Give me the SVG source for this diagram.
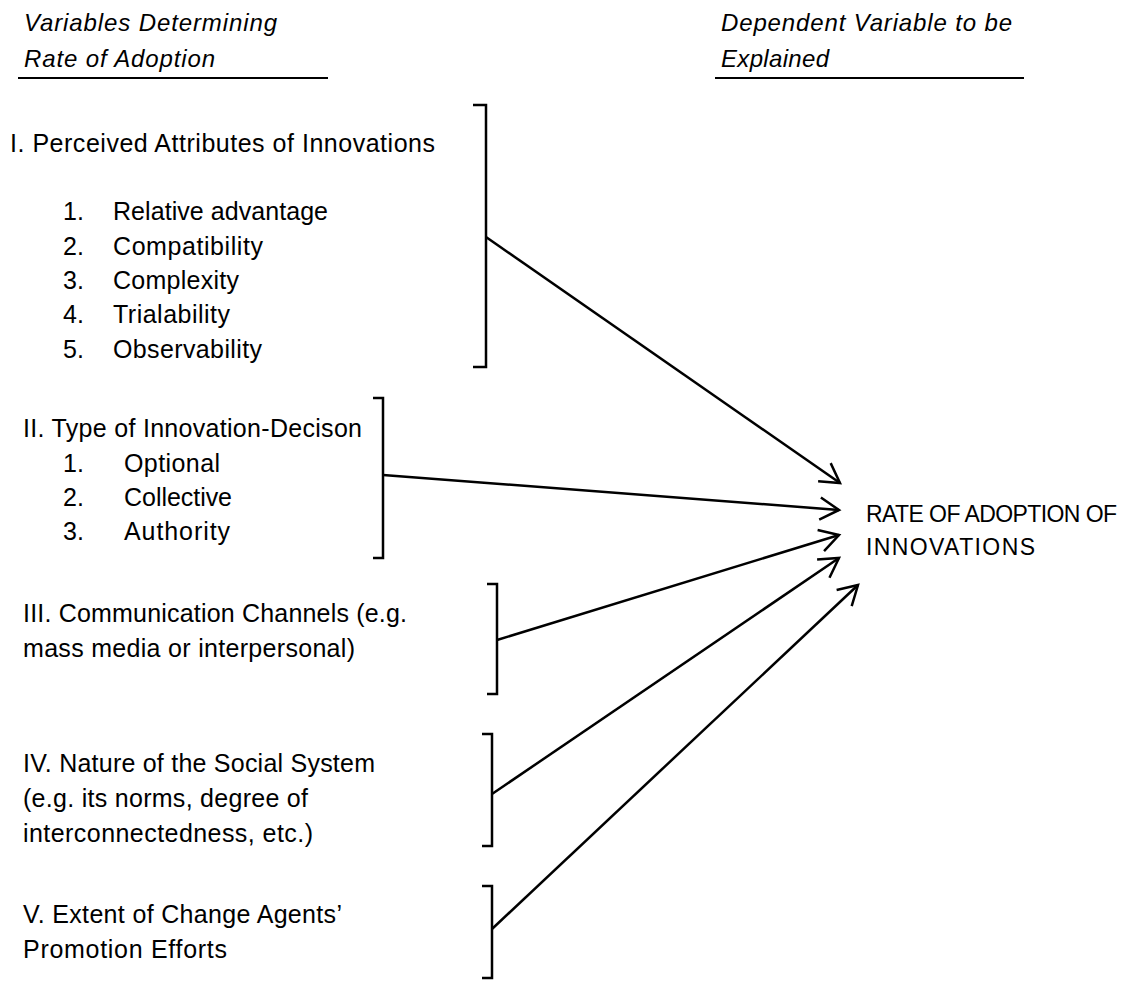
<svg xmlns="http://www.w3.org/2000/svg" width="1137" height="982" viewBox="0 0 1137 982">
<style>
text{font-family:"Liberation Sans",Arial,sans-serif;font-size:25px;fill:#000}
.hd{font-style:italic;font-size:24px}
.tg{font-size:23px}
.rule{stroke:#000;stroke-width:2;fill:none}
.br{stroke:#000;stroke-width:2.5;fill:none}
.conn{stroke:#000;stroke-width:2.5;fill:none;marker-end:url(#arr)}
</style>
<defs>
<marker id="arr" markerUnits="userSpaceOnUse" orient="auto" markerWidth="40" markerHeight="40" viewBox="-30 -20 40 40" refX="0" refY="0" overflow="visible">
<path d="M-19,-11 L0,0 L-19,11" fill="none" stroke="#000" stroke-width="2.5" stroke-linejoin="miter"/>
</marker>
</defs>
<rect width="1137" height="982" fill="#fff"/>
<g id="header-left">
<text class="hd" x="24" y="31" textLength="253">Variables Determining</text>
<text class="hd" x="24" y="67" textLength="191">Rate of Adoption</text>
<line class="rule" x1="18" y1="78" x2="328" y2="78"/>
</g>
<g id="header-right">
<text class="hd" x="721" y="31" textLength="291">Dependent Variable to be</text>
<text class="hd" x="721" y="67" textLength="108">Explained</text>
<line class="rule" x1="715" y1="78" x2="1024" y2="78"/>
</g>
<g id="node-1">
<text x="10" y="152" textLength="425">I. Perceived Attributes of Innovations</text>
<text x="63" y="220">1.</text><text x="113" y="220" textLength="215">Relative advantage</text>
<text x="63" y="255">2.</text><text x="113" y="255" textLength="150">Compatibility</text>
<text x="63" y="289">3.</text><text x="113" y="289" textLength="126">Complexity</text>
<text x="63" y="323">4.</text><text x="113" y="323" textLength="117">Trialability</text>
<text x="63" y="358">5.</text><text x="113" y="358" textLength="149">Observability</text>
<path class="br" d="M473,105 H486 V367 H473"/>
</g>
<g id="node-2">
<text x="23" y="437" textLength="339">II. Type of Innovation-Decison</text>
<text x="63" y="472">1.</text><text x="124" y="472" textLength="96">Optional</text>
<text x="63" y="506">2.</text><text x="124" y="506" textLength="108">Collective</text>
<text x="63" y="540">3.</text><text x="124" y="540" textLength="106">Authority</text>
<path class="br" d="M373,398 H383 V558 H373"/>
</g>
<g id="node-3">
<text x="23" y="622" textLength="384">III. Communication Channels (e.g.</text>
<text x="23" y="657" textLength="332">mass media or interpersonal)</text>
<path class="br" d="M487,584 H497 V694 H487"/>
</g>
<g id="node-4">
<text x="23" y="772" textLength="352">IV. Nature of the Social System</text>
<text x="23" y="807" textLength="285">(e.g. its norms, degree of</text>
<text x="23" y="842" textLength="290">interconnectedness, etc.)</text>
<path class="br" d="M482,734 H492 V846 H482"/>
</g>
<g id="node-5">
<text x="23" y="923" textLength="319">V. Extent of Change Agents’</text>
<text x="23" y="958" textLength="204">Promotion Efforts</text>
<path class="br" d="M482,886 H492 V978 H482"/>
</g>
<g id="node-target">
<text class="tg" x="866" y="522" textLength="251">RATE OF ADOPTION OF</text>
<text class="tg" x="866" y="555" textLength="169">INNOVATIONS</text>
</g>
<g id="connectors">
<line class="conn" x1="486" y1="237" x2="840" y2="483"/>
<line class="conn" x1="383" y1="475" x2="839" y2="510"/>
<line class="conn" x1="497" y1="640" x2="839" y2="535"/>
<line class="conn" x1="492" y1="794" x2="839" y2="558"/>
<line class="conn" x1="492" y1="929" x2="858" y2="585"/>
</g>
</svg>
